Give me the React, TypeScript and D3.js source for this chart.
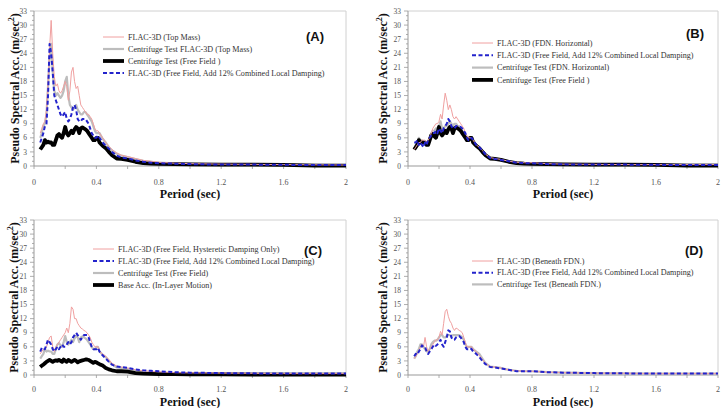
import * as d3 from "d3"

// Periodo (s) comun a todas las curvas
const periods = [
  0.04, 0.05, 0.06, 0.07, 0.08, 0.09, 0.1, 0.11, 0.12, 0.13, 0.14, 0.15, 0.16, 0.17, 0.18, 0.19, 0.2, 0.21, 0.22,
  0.23, 0.24, 0.25, 0.26, 0.27, 0.28, 0.29, 0.3, 0.31, 0.32, 0.33, 0.34, 0.35, 0.36, 0.37, 0.38, 0.39, 0.4, 0.41,
  0.42, 0.44, 0.46, 0.48, 0.5, 0.53, 0.56, 0.6, 0.65, 0.7, 0.75, 0.8, 0.9, 1.0, 1.2, 1.4, 1.6, 1.8, 2.0,
]

// Centrifuga, campo libre (se repite en A, B y C)
const centrifugeFreeField = [
  3.5, 4, 4.5, 5.5, 5, 5.2, 5, 5, 4.5, 4.5, 5.5, 6.5, 6.8, 6.3, 6, 7, 8.3, 7, 6.5, 7, 7.5, 7, 7.8, 8.3, 8, 7, 8, 8.2,
  8, 7.8, 7.5, 7, 6.5, 6, 5.5, 5.5, 6, 6, 5, 4.3, 3.8, 3, 2.3, 1.6, 1.5, 1.3, 0.9, 0.6, 0.5, 0.45, 0.4, 0.35, 0.3,
  0.3, 0.25, 0.1, 0.1,
]

// (A)
const aTopMass = [
  7, 8, 9, 9.5, 12, 18, 25, 31, 24, 19, 17, 17.5, 16, 15.5, 16, 17, 18, 17, 14, 16, 20, 21, 18, 16.5, 17, 15, 13,
  12.5, 12, 11.5, 11, 11, 10.5, 10, 9, 8, 7.5, 7.5, 7, 6, 5, 4.2, 3.5, 2.8, 2.3, 2, 1.6, 1.2, 1, 0.8, 0.6, 0.5, 0.4,
  0.35, 0.3, 0.25, 0.2,
]
const aCentTopMass = [
  6, 7, 8.5, 9, 11, 17, 23, 26, 20, 16, 15, 15.5, 15, 14.5, 15, 16, 18, 19, 15, 13, 12.5, 12, 12.5, 13, 12, 11.5, 11,
  11, 11.5, 11.5, 11, 10.5, 10, 9.5, 8.5, 7.5, 7, 7, 7, 5.8, 5, 4, 3.3, 2.6, 2.2, 1.9, 1.5, 1.1, 0.9, 0.7, 0.55, 0.45,
  0.35, 0.3, 0.3, 0.25, 0.2,
]
const aFreeFieldDamped = [
  5, 6, 7, 8.5, 9, 15, 26, 24, 20, 15, 14, 13, 12, 11, 10.5, 11, 11.5, 10, 9.5, 10, 11, 12.5, 13, 12, 10, 9.5, 9.5, 10,
  10, 10, 9.5, 9, 8, 7, 6.5, 6, 6, 6.5, 6, 5, 4.3, 3.7, 3, 2.2, 1.8, 1.6, 1.2, 0.9, 0.7, 0.6, 0.5, 0.4, 0.3, 0.3,
  0.25, 0.2, 0.2,
]

// (B)
const bFdnHorizontal = [
  3.5, 4, 4.5, 5, 5, 5.5, 5.5, 5.5, 5, 5.5, 6, 7, 8, 8.5, 9, 9, 9.5, 11, 10, 13, 15.5, 14, 12, 13, 12, 10.5, 10, 10.5,
  10, 9.5, 9, 8.5, 8, 7, 6.5, 6, 6, 6, 5.5, 4.5, 4, 3.3, 2.5, 1.8, 1.6, 1.4, 1, 0.8, 0.7, 0.7, 0.5, 0.4, 0.35, 0.3,
  0.3, 0.3, 0.3,
]
const bFreeFieldDamped = [
  5, 5, 5.5, 4.5, 5, 4.5, 4, 5, 4.5, 5.5, 6, 6.5, 7, 7, 7.5, 7, 8, 7.5, 7, 8, 8.5, 9, 10, 9.5, 8.5, 8, 8, 8.5, 8.5,
  8.5, 8.3, 8, 7.5, 7, 6, 5.5, 5.5, 6, 5.5, 4.5, 4, 3.3, 2.5, 1.7, 1.5, 1.3, 1, 0.7, 0.6, 0.6, 0.4, 0.35, 0.3, 0.3,
  0.25, 0.2, 0.2,
]
const bCentFdnHorizontal = [
  3.5, 4.5, 5, 6, 5.5, 5, 5, 4.8, 4.5, 5, 6, 7, 7.5, 7.5, 8, 8, 8.5, 9.5, 8, 8, 8.5, 8.5, 9, 9.5, 9, 8.5, 9, 9, 8.5,
  8.5, 8, 7.5, 7, 6.5, 6, 5.5, 6, 6, 5.5, 4.5, 4, 3.3, 2.5, 1.7, 1.6, 1.4, 1, 0.7, 0.6, 0.6, 0.45, 0.4, 0.35, 0.3,
  0.3, 0.3, 0.3,
]

// (C)
const cHysteretic = [
  4.5, 5, 5.5, 5.5, 6, 7, 8, 8.3, 6, 5, 6, 6.5, 7, 7.5, 8, 8.5, 9, 10, 9, 11, 14.5, 14, 12, 12, 11, 10.5, 10, 9.8,
  9.5, 9.3, 9, 8.5, 8, 7, 6.5, 6, 6, 6, 5, 4.5, 4, 3.3, 2.5, 1.9, 1.7, 1.5, 1.1, 0.9, 0.8, 0.7, 0.5, 0.45, 0.4, 0.35,
  0.3, 0.3, 0.3,
]
const cFreeFieldDamped = [
  5, 5.8, 5.5, 5.5, 6.5, 7.5, 7, 6.5, 5.5, 5, 5.5, 6, 5.5, 6, 6.5, 6, 6, 6.5, 7, 6.5, 7, 8, 8.5, 9, 8.5, 8, 7.5, 8,
  8.5, 8.5, 8.5, 8, 7, 6, 5.5, 5.5, 5.5, 5.8, 5, 4.2, 3.5, 2.8, 2.2, 1.8, 1.7, 1.5, 1.2, 1, 0.9, 0.8, 0.6, 0.5, 0.4,
  0.35, 0.3, 0.3, 0.3,
]
const cBaseAcc = [
  1.7, 2, 2.2, 2.5, 2.8, 3, 3.2, 3, 2.8, 3, 3.1, 3, 3.2, 3, 2.8, 3.3, 3, 2.8, 3.2, 3, 2.8, 3, 3.2, 3, 2.7, 2.9, 3,
  3.1, 3.2, 3.3, 3.3, 3.2, 3, 2.8, 2.6, 2.8, 2.7, 2.5, 2.3, 2, 1.5, 1.2, 1, 0.8, 0.8, 0.7, 0.4, 0.3, 0.25, 0.2, 0.2,
  0.15, 0.15, 0.1, 0.1, 0.1, 0.1,
]

// (D)
const dBeneathFdn = [
  3.5, 4, 4.5, 5, 6, 6.5, 6, 8, 6, 5, 5.5, 6, 6.5, 7, 7.5, 7.5, 8, 9.3, 8.5, 11, 13.5, 14, 12.5, 11.5, 11, 10, 9.5,
  10, 9.8, 9.5, 9.3, 9, 8, 7, 6, 6, 6, 6, 5.5, 5, 4.2, 3.3, 2.5, 1.8, 1.7, 1.5, 1.1, 0.9, 0.8, 0.8, 0.6, 0.5, 0.4,
  0.35, 0.3, 0.3, 0.3,
]
const dFreeFieldDamped = [
  4, 4.5, 4.3, 5, 5.5, 6.3, 6, 6, 5, 4.5, 5, 5.5, 6, 6.5, 6.2, 6.5, 7, 7.5, 6.5, 6, 7, 8, 9.5, 9.3, 8, 7.5, 7.5, 8,
  8.2, 8.3, 8, 7.5, 7, 6, 5.5, 5.5, 5.7, 5.5, 5, 4.5, 3.8, 3, 2.3, 1.7, 1.6, 1.4, 1.1, 0.8, 0.8, 0.8, 0.6, 0.5, 0.4,
  0.35, 0.3, 0.3, 0.3,
]
const dCentBeneathFdn = [
  3.5, 4, 5, 5.5, 6.5, 6.5, 6, 5.5, 5, 5, 5.5, 6.5, 7, 7.3, 7.3, 7.5, 8, 8.5, 8.5, 8, 8, 8.3, 8.5, 8.5, 8.3, 8.5, 8.5,
  8.5, 8.5, 8.5, 8.3, 8, 7.5, 6.5, 6, 6, 6, 6, 5.5, 5, 4.5, 3.5, 2.5, 1.8, 1.7, 1.5, 1.1, 0.9, 0.8, 0.8, 0.6, 0.5,
  0.4, 0.35, 0.3, 0.3, 0.3,
]

const yTicks = [0, 3, 6, 9, 12, 15, 18, 21, 24, 27, 30, 33]
const xTicks = [0, 0.4, 0.8, 1.2, 1.6, 2]

type Tipo = "red" | "gray" | "black" | "blue"
type Serie = { label: string; values: number[]; tipo: Tipo }

const estilos: Record<Tipo, { stroke: string; width: number; dash?: string }> = {
  red: { stroke: "#f0a0a0", width: 1 },
  gray: { stroke: "#bdbdbd", width: 2.2 },
  black: { stroke: "#000000", width: 3.8 },
  blue: { stroke: "#2323cc", width: 2, dash: "4,2.5" },
}
const ordenDibujo: Tipo[] = ["gray", "black", "red", "blue"]

interface Panel {
  letra: string
  left: number
  right: number
  top: number
  bottom: number
  tituloX: number
  letraX: number
  letraY: number
  etiquetaDy: number
  periodoY: number
  leyenda: { x: number; y: number; paso: number }
  series: Serie[]
}

const paneles: Panel[] = [
  {
    letra: "(A)", left: 34, right: 346, top: 11, bottom: 166, tituloX: 13, letraX: 315, letraY: 36,
    etiquetaDy: 19, periodoY: 198,
    leyenda: { x: 103, y: 37, paso: 12 },
    series: [
      { label: "FLAC-3D (Top Mass)", values: aTopMass, tipo: "red" },
      { label: "Centrifuge Test FLAC-3D (Top Mass)", values: aCentTopMass, tipo: "gray" },
      { label: "Centrifuge Test (Free Field )", values: centrifugeFreeField, tipo: "black" },
      { label: "FLAC-3D (Free Field, Add 12% Combined Local Damping)", values: aFreeFieldDamped, tipo: "blue" },
    ],
  },
  {
    letra: "(B)", left: 408, right: 718, top: 11, bottom: 166, tituloX: 381, letraX: 695, letraY: 33,
    etiquetaDy: 19, periodoY: 198,
    leyenda: { x: 472, y: 43, paso: 12.3 },
    series: [
      { label: "FLAC-3D (FDN. Horizontal)", values: bFdnHorizontal, tipo: "red" },
      { label: "FLAC-3D (Free Field, Add 12% Combined Local Damping)", values: bFreeFieldDamped, tipo: "blue" },
      { label: "Centrifuge Test (FDN. Horizontal)", values: bCentFdnHorizontal, tipo: "gray" },
      { label: "Centrifuge Test (Free Field )", values: centrifugeFreeField, tipo: "black" },
    ],
  },
  {
    letra: "(C)", left: 34, right: 346, top: 220, bottom: 375, tituloX: 12, letraX: 313, letraY: 250,
    etiquetaDy: 17, periodoY: 405.5,
    leyenda: { x: 93, y: 249, paso: 12 },
    series: [
      { label: "FLAC-3D (Free Field, Hysteretic Damping Only)", values: cHysteretic, tipo: "red" },
      { label: "FLAC-3D (Free Field, Add 12% Combined Local Damping)", values: cFreeFieldDamped, tipo: "blue" },
      { label: "Centrifuge Test (Free Field)", values: centrifugeFreeField, tipo: "gray" },
      { label: "Base Acc. (In-Layer Motion)", values: cBaseAcc, tipo: "black" },
    ],
  },
  {
    letra: "(D)", left: 408, right: 718, top: 220, bottom: 375, tituloX: 381, letraX: 694, letraY: 250,
    etiquetaDy: 17, periodoY: 405.5,
    leyenda: { x: 472, y: 261, paso: 11.7 },
    series: [
      { label: "FLAC-3D (Beneath FDN.)", values: dBeneathFdn, tipo: "red" },
      { label: "FLAC-3D (Free Field, Add 12% Combined Local Damping)", values: dFreeFieldDamped, tipo: "blue" },
      { label: "Centrifuge Test (Beneath FDN.)", values: dCentBeneathFdn, tipo: "gray" },
    ],
  },
]

const serif = "'Liberation Serif', 'Times New Roman', serif"
const sans = "'Liberation Sans', Arial, sans-serif"

function Grafico({ p }: { p: Panel }) {
  const x = d3.scaleLinear().domain([0, 2]).range([p.left, p.right])
  const y = d3.scaleLinear().domain([0, 33]).range([p.bottom, p.top])
  const linea = d3
    .line<number>()
    .x((_, i) => x(periods[i]))
    .y((d) => y(d))

  const menoresY = d3.range(0, 34, 1)
  const menoresX = d3.range(0, 2.01, 0.2)
  const ordenadas = [...p.series].sort((a, b) => ordenDibujo.indexOf(a.tipo) - ordenDibujo.indexOf(b.tipo))
  const cy = (p.top + p.bottom) / 2

  return (
    <g>
      {/* marco */}
      <line x1={p.left} x2={p.right} y1={p.top} y2={p.top} stroke="#d0d0d0" strokeWidth={1} />
      <line x1={p.right} x2={p.right} y1={p.top} y2={p.bottom} stroke="#d0d0d0" strokeWidth={1} />
      <line x1={p.left} x2={p.left} y1={p.top} y2={p.bottom} stroke="#999" strokeWidth={1} />
      <line x1={p.left} x2={p.right} y1={p.bottom} y2={p.bottom} stroke="#999" strokeWidth={1} />

      {menoresY.map((t) => (
        <line
          key={"my" + t}
          x1={p.left - (t % 3 === 0 ? 4 : 2)}
          x2={p.left}
          y1={y(t)}
          y2={y(t)}
          stroke="#999"
          strokeWidth={0.8}
        />
      ))}
      {yTicks.map((t) => (
        <text key={"ty" + t} x={p.left - 7} y={y(t) + 2.6} textAnchor="end" fontSize={7.5} fill="#555" fontFamily={serif}>
          {t}
        </text>
      ))}
      {menoresX.map((t) => (
        <line key={"mx" + t} x1={x(t)} x2={x(t)} y1={p.bottom} y2={p.bottom + 3} stroke="#999" strokeWidth={0.8} />
      ))}
      {xTicks.map((t) => (
        <text
          key={"tx" + t}
          x={x(t)}
          y={p.bottom + p.etiquetaDy}
          textAnchor="middle"
          fontSize={8}
          fill="#555"
          fontFamily={serif}
        >
          {t}
        </text>
      ))}

      <text
        transform={`translate(${p.tituloX + 6},${cy}) rotate(-90)`}
        textAnchor="middle"
        fontSize={12}
        fontWeight="bold"
        fontFamily={serif}
        fill="#111"
      >
        Pseudo Spectral Acc. (m/sec<tspan fontSize={8} dy={-5}>2</tspan>
        <tspan dy={5}>)</tspan>
      </text>
      <text
        x={(p.left + p.right) / 2}
        y={p.periodoY}
        textAnchor="middle"
        fontSize={12}
        fontWeight="bold"
        fontFamily={serif}
        fill="#111"
      >
        Period (sec)
      </text>

      {ordenadas.map((s, i) => {
        const e = estilos[s.tipo]
        return (
          <path
            key={"s" + i}
            d={linea(s.values) ?? ""}
            fill="none"
            stroke={e.stroke}
            strokeWidth={e.width}
            strokeDasharray={e.dash}
            strokeLinejoin="round"
          />
        )
      })}

      {p.series.map((s, i) => {
        const e = estilos[s.tipo]
        const ly = p.leyenda.y + i * p.leyenda.paso
        return (
          <g key={"l" + i}>
            <line
              x1={p.leyenda.x}
              x2={p.leyenda.x + 21}
              y1={ly}
              y2={ly}
              stroke={e.stroke}
              strokeWidth={e.width}
              strokeDasharray={e.dash}
            />
            <text x={p.leyenda.x + 25} y={ly + 2.7} fontSize={8.1} fill="#333" fontFamily={serif}>
              {s.label}
            </text>
          </g>
        )
      })}

      <text x={p.letraX} y={p.letraY + 4.5} textAnchor="middle" fontSize={13} fontWeight="bold" fontFamily={sans} fill="#111">
        {p.letra}
      </text>
    </g>
  )
}

export default function App() {
  return (
    <svg
      width={723}
      height={408}
      viewBox="0 0 723 408"
      style={{ position: "absolute", left: 0, top: 0, background: "#fff" }}
    >
      <rect width={723} height={408} fill="#fff" />
      {paneles.map((p) => (
        <Grafico key={p.letra} p={p} />
      ))}
    </svg>
  )
}
